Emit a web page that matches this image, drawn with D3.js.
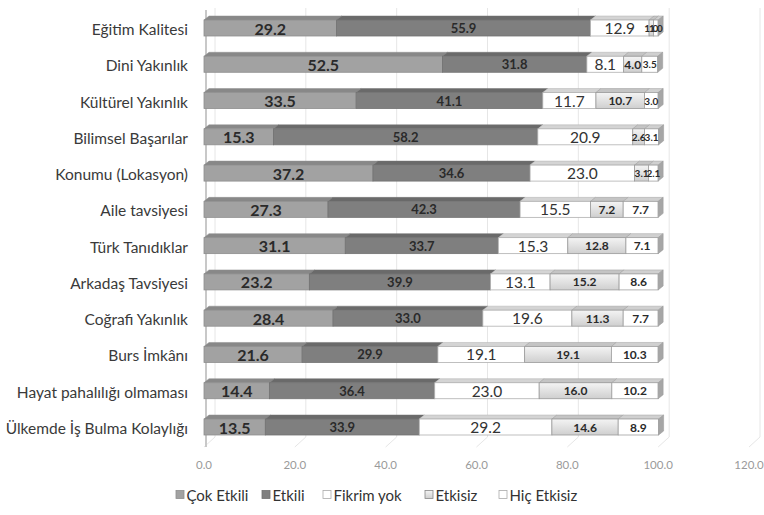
<!DOCTYPE html>
<html><head><meta charset="utf-8">
<script src="https://cdn.jsdelivr.net/npm/d3@7"></script>
<style>body{margin:0;background:#fff}svg{display:block}</style>
</head><body>
<svg id="c" width="764" height="515"></svg>
<script>
const categories = ["Eğitim Kalitesi","Dini Yakınlık","Kültürel Yakınlık","Bilimsel Başarılar","Konumu (Lokasyon)","Aile tavsiyesi","Türk Tanıdıklar","Arkadaş Tavsiyesi","Coğrafi Yakınlık","Burs İmkânı","Hayat pahalılığı olmaması","Ülkemde İş Bulma Kolaylığı"];
const seriesNames = ["Çok Etkili","Etkili","Fikrim yok","Etkisiz","Hiç Etkisiz"];
const cokEtkili  = [29.2,52.5,33.5,15.3,37.2,27.3,31.1,23.2,28.4,21.6,14.4,13.5];
const etkili     = [55.9,31.8,41.1,58.2,34.6,42.3,33.7,39.9,33.0,29.9,36.4,33.9];
const fikrimYok  = [12.9,8.1,11.7,20.9,23.0,15.5,15.3,13.1,19.6,19.1,23.0,29.2];
const etkisiz    = [1.0,4.0,10.7,2.6,3.1,7.2,12.8,15.2,11.3,19.1,16.0,14.6];
const hicEtkisiz = [1.0,3.5,3.0,3.1,2.1,7.7,7.1,8.6,7.7,10.3,10.2,8.9];
const ticks = [0,20,40,60,80,100,120];

const seriesVals = [cokEtkili, etkili, fikrimYok, etkisiz, hicEtkisiz];
const styles = [
  {front:"#a2a2a2", top:"#888", stroke:"#8e8e8e", font:16, weight:"bold", color:"#2a2a2a"},
  {front:"#7f7f7f", top:"#6a6a6a", stroke:"#727272", font:13, weight:"bold", color:"#2a2a2a"},
  {front:"#ffffff", top:"#d4d4d4", stroke:"#b0b0b0", font:15.5, weight:"normal", color:"#333"},
  {front:"url(#gEt)", top:"#c4c4c4", stroke:"#999", font:12, weight:"bold", color:"#2a2a2a"},
  {front:"#ffffff", top:"#d0d0d0", stroke:"#a0a0a0", font:12, weight:"bold", color:"#2a2a2a"}
];

const svg = d3.select("#c");
const defs = svg.append("defs");
const g1 = defs.append("linearGradient").attr("id","gEt").attr("x1",0).attr("y1",0).attr("x2",0).attr("y2",1);
g1.append("stop").attr("offset","0%").attr("stop-color","#f4f4f4");
g1.append("stop").attr("offset","100%").attr("stop-color","#cfcfcf");

const x = d3.scaleLinear().domain([0,120]).range([204,749]);
const y = d3.scalePoint().domain(categories).range([28,427]);
const FONT = "Lato, 'Open Sans', sans-serif";
const dX = 11;
const bdx = 5, bdy = -4;
const bh = 16;

svg.append("g").selectAll("line").data(ticks).join("line")
  .attr("x1", d=>x(d)+dX).attr("x2", d=>x(d)+dX)
  .attr("y1", 8).attr("y2", 437)
  .attr("stroke","#e6e6e6").attr("stroke-width",1);
svg.append("g").selectAll("line").data(ticks).join("line")
  .attr("x1", d=>x(d)).attr("x2", d=>x(d)+dX)
  .attr("y1", 447).attr("y2", 437)
  .attr("stroke","#e6e6e6").attr("stroke-width",1);
svg.append("line").attr("x1",x(0)+2).attr("x2",x(0)+2).attr("y1",10).attr("y2",447)
  .attr("stroke","#c8c8c8").attr("stroke-width",2);

const stackData = categories.map((c,i)=>{
  let acc = 0;
  return seriesVals.map((arr,s)=>{ const v=arr[i]; const o={cat:c,s,v,x0:acc,x1:acc+v}; acc+=v; return o;});
});

const rows = svg.append("g").selectAll("g").data(stackData).join("g");
rows.each(function(segs){
  const gr = d3.select(this);
  const cy = y(segs[0].cat);
  const top = cy - bh/2;
  segs.forEach(seg=>{
    const st = styles[seg.s];
    const xa = x(seg.x0), xb = x(seg.x1);
    gr.append("path").attr("d", `M${xa},${top}L${xa+bdx},${top+bdy}L${xb+bdx},${top+bdy}L${xb},${top}Z`)
      .attr("fill", st.top).attr("stroke", st.stroke).attr("stroke-width",0.5);
  });
  segs.forEach(seg=>{
    const st = styles[seg.s];
    const xa = x(seg.x0), xb = x(seg.x1);
    gr.append("rect").attr("x", xa).attr("y", top).attr("width", Math.max(0,xb-xa)).attr("height", bh)
      .attr("fill", st.front).attr("stroke", st.stroke).attr("stroke-width",0.8);
  });
  const last = segs[segs.length-1];
  const xe = x(last.x1);
  gr.append("path").attr("d", `M${xe},${top}L${xe+bdx},${top+bdy}L${xe+bdx},${top+bdy+bh}L${xe},${top+bh}Z`)
    .attr("fill", "#a6a6a6").attr("stroke","#999").attr("stroke-width",0.5);
  segs.forEach(seg=>{
    const st = styles[seg.s];
    const small = seg.v < 4 && seg.s >= 3;
    gr.append("text").attr("x", (x(seg.x0)+x(seg.x1))/2).attr("y", cy)
      .attr("text-anchor","middle").attr("dominant-baseline","central")
      .attr("font-family", FONT).attr("font-size", small ? 10 : st.font).attr("font-weight", st.weight)
      .attr("fill", st.color).text(seg.v.toFixed(1));
  });
});

svg.append("g").selectAll("text").data(categories).join("text")
  .attr("x", 188).attr("y", d=>y(d)+1).attr("text-anchor","end").attr("dominant-baseline","central")
  .attr("font-family", FONT).attr("font-size", 15.5).attr("fill","#3a3a3a").text(d=>d);

svg.append("g").selectAll("text").data(ticks).join("text")
  .attr("x", d=>x(d)).attr("y", 469).attr("text-anchor","middle")
  .attr("font-family", FONT).attr("font-size", 11.5).attr("fill","#9a9a9a").text(d=>d.toFixed(1));

const legX = [176, 262, 323, 425, 499];
const legFill = ["#a2a2a2","#7f7f7f","#ffffff","url(#gEt)","#ffffff"];
const legStroke = ["#8e8e8e","#727272","#aaa","#888","#aaa"];
const leg = svg.append("g").selectAll("g").data(seriesNames).join("g")
  .attr("transform",(d,i)=>`translate(${legX[i]},495)`);
leg.append("rect").attr("x",0).attr("y",-4.5).attr("width",8).attr("height",8)
  .attr("fill",(d,i)=>legFill[i]).attr("stroke",(d,i)=>legStroke[i]).attr("stroke-width",0.8);
leg.append("text").attr("x",10.5).attr("y",0).attr("dominant-baseline","central")
  .attr("font-family", FONT).attr("font-size",15).attr("fill","#333").text(d=>d);
</script>
</body></html>
